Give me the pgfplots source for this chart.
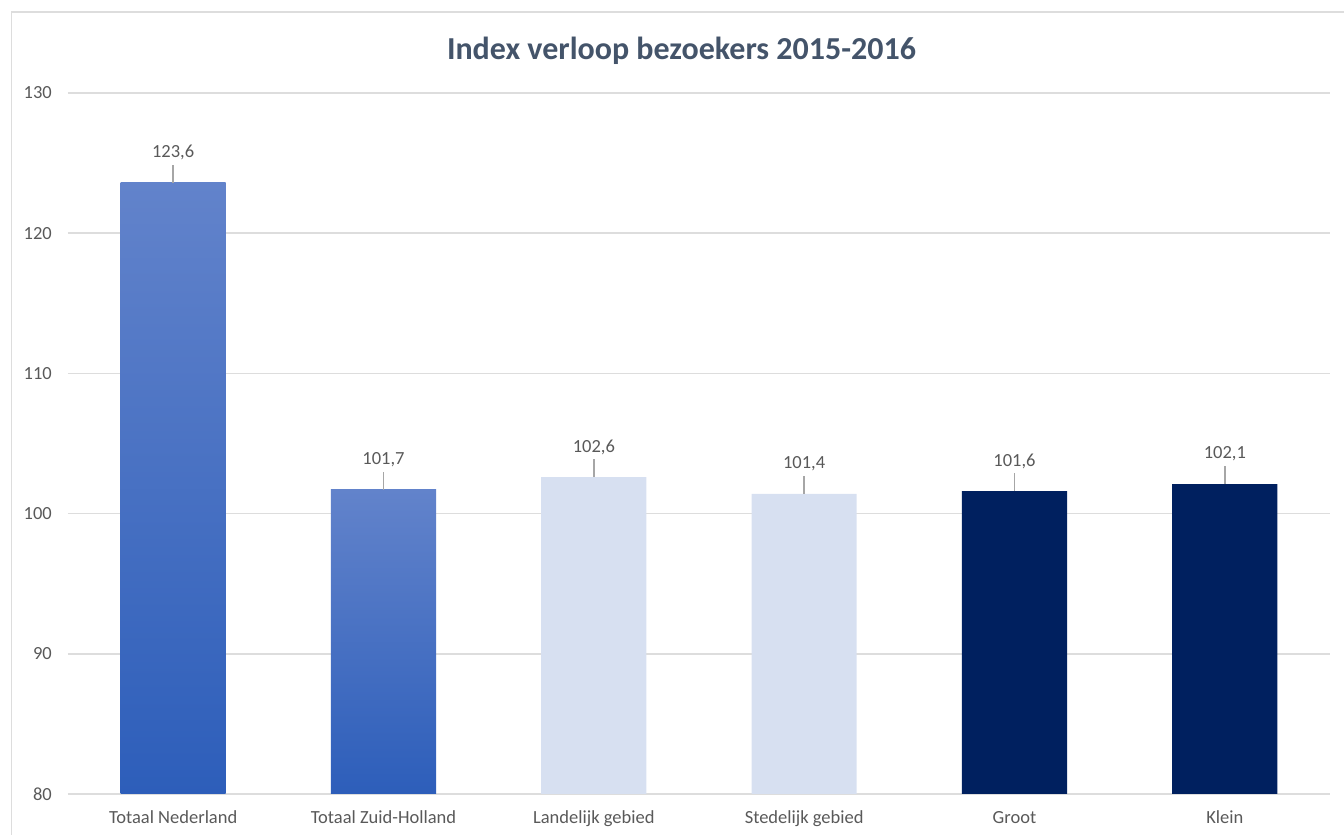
\documentclass[border=0pt]{standalone}
\usepackage{pgfplots}
\pgfplotsset{compat=1.18}
\usepackage{fontspec}
\setmainfont{Carlito}
\definecolor{gridgray}{HTML}{DDDDDD}
\definecolor{tickgray}{HTML}{595959}
\definecolor{titlecol}{HTML}{44546A}
\definecolor{leadgray}{HTML}{A6A6A6}
\definecolor{lightbar}{HTML}{D7E0F1}
\definecolor{navy}{HTML}{00205F}
\definecolor{gradtop}{HTML}{6283CB}
\definecolor{gradbot}{HTML}{2D5EBA}
\begin{document}
\begin{tikzpicture}
\useasboundingbox (0pt,0pt) rectangle (1344pt,835pt);
\draw[gridgray, line width=1.5pt] (11.5pt,0pt) -- (11.5pt,823pt) -- (1344pt,823pt);
\node[anchor=base, font=\bfseries\fontsize{32}{38}\selectfont, text=titlecol, inner sep=0pt] at (681.5pt,775.7pt) {Index verloop bezoekers 2015-2016};
\begin{axis}[
  at={(68pt,41pt)}, anchor=south west,
  scale only axis, width=1262pt, height=701pt,
  ymin=80, ymax=130, xmin=-0.5, xmax=5.5,
  ytick={80,90,...,130},
  xtick={0,1,2,3,4,5},
  xticklabels={Totaal Nederland, Totaal Zuid-Holland, Landelijk gebied, Stedelijk gebied, Groot, Klein},
  /pgf/number format/assume math mode=true,
  axis line style={draw=none},
  major tick length=0pt,
  ymajorgrids, grid style={gridgray, line width=1.6pt},
  ticklabel style={font=\fontsize{18.5}{22}\selectfont, text=tickgray, inner sep=0pt},
  yticklabel style={anchor=base east, xshift=-16pt, yshift=-6pt},
  xticklabel style={anchor=base, yshift=-30pt},
  ybar, bar width=0.5, bar shift=0pt,
  point meta=explicit symbolic,
  nodes near coords,
  every node near coord/.append style={font=\fontsize{18.5}{22}\selectfont, text=tickgray, anchor=center, yshift=30pt},
  error bars/y dir=plus, error bars/y explicit,
  error bars/error mark=none,
  error bars/error bar style={draw=leadgray, line width=1.6pt},
  clip=false,
]
\addplot[draw=none, top color=gradtop, bottom color=gradbot] coordinates {
  (0,123.6) +- (0,1.28) [123,6]
};
\addplot[draw=none, top color=gradtop, bottom color=gradbot] coordinates {
  (1,101.7) +- (0,1.28) [101,7]
};
\addplot[draw=none, fill=lightbar] coordinates {
  (2,102.6) +- (0,1.28) [102,6]
  (3,101.4) +- (0,1.28) [101,4]
};
\addplot[draw=none, fill=navy] coordinates {
  (4,101.6) +- (0,1.28) [101,6]
  (5,102.1) +- (0,1.28) [102,1]
};
\end{axis}
\end{tikzpicture}
\end{document}
